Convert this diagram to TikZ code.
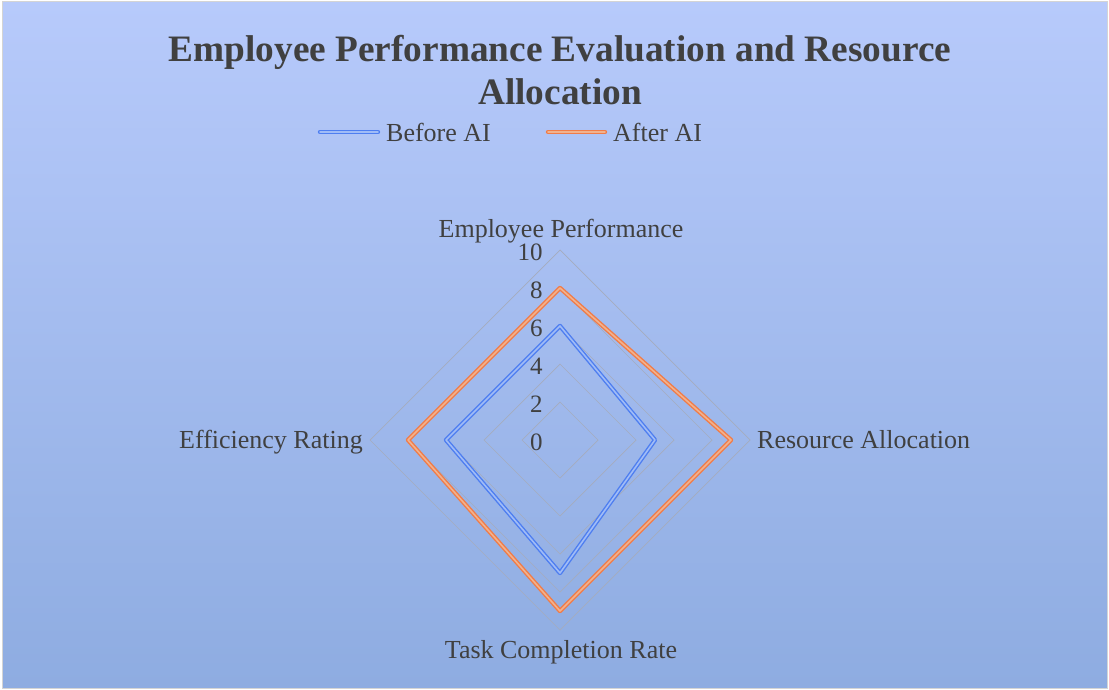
\documentclass[tikz,border=0pt]{standalone}
\usepackage{fontspec}
\setmainfont{Liberation Serif}
\usetikzlibrary{positioning}
\definecolor{bgtop}{RGB}{183,202,251}
\definecolor{bgbottom}{RGB}{142,172,225}
\definecolor{framegray}{RGB}{212,212,212}
\definecolor{gridgray}{RGB}{165,172,190}
\definecolor{textgray}{RGB}{64,64,64}
\definecolor{beforeblue}{RGB}{78,126,240}
\definecolor{beforelight}{RGB}{160,188,247}
\definecolor{afterorange}{RGB}{240,124,72}
\definecolor{afterlight}{RGB}{242,178,142}

\tikzset{
  gridline/.style={draw=gridgray, line width=0.7pt},
  beforeai/.style={draw=beforeblue, double=beforelight, line width=1.4pt, double distance=1.6pt, line join=round},
  afterai/.style={draw=afterorange, double=afterlight, line width=1.4pt, double distance=1.6pt, line join=round},
  axislabel/.style={text=textgray, inner sep=0pt, font=\fontsize{26}{30}\selectfont},
  ticklabel/.style={text=textgray, inner sep=0pt, anchor=east, font=\fontsize{25}{30}\selectfont},
}

\begin{document}
\begin{tikzpicture}[x=1pt, y=-1pt]
\useasboundingbox (0,0) rectangle (1109,690);

% Chart area background
\fill[white] (0,0) rectangle (1109,690);
\shade[top color=bgtop, bottom color=bgbottom] (2,2) rectangle (1107,688);
\draw[framegray, line width=1pt] (2,2) rectangle (1107,688);

% Title
\node[text=textgray, inner sep=0pt, align=center, anchor=north,
      font=\bfseries\fontsize{37.3}{43}\selectfont] (title) at (560,35)
      {Employee Performance Evaluation and Resource\\Allocation};

% Legend
\coordinate (legbeforestart) at (320,132);
\coordinate (legbefore) at (378,132);
\draw[beforeai, line cap=round] (legbeforestart) -- (legbefore);
\node[axislabel, right=8pt of legbefore] (legbeforetext) {Before AI};
\coordinate (legafterstart) at (548,132);
\coordinate (legafter) at (605,132);
\draw[afterai, line cap=round] (legafterstart) -- (legafter);
\node[axislabel, right=8pt of legafter] (legaftertext) {After AI};

% Radar grid and series
\begin{scope}[shift={(560,440)}, x=19pt, y=19pt]
  \foreach \r in {2,4,...,10}
    \draw[gridline] (0,\r) -- (\r,0) -- (0,-\r) -- (-\r,0) -- cycle;
  \foreach \v in {0,2,...,10}
    \node[ticklabel] (tick\v) at (-0.9,\v-0.1) {\v};

  \draw[beforeai] (0,6) -- (5,0) -- (0,-7) -- (-6,0) -- cycle;
  \draw[afterai] (0,8) -- (9,0) -- (0,-9) -- (-8,0) -- cycle;
\end{scope}

% Axis labels
\node[axislabel, anchor=base] (empperf) at (561,237) {Employee Performance};
\node[axislabel, anchor=base west] (resalloc) at (757,448) {Resource Allocation};
\node[axislabel, anchor=base] (taskrate) at (561,658) {Task Completion Rate};
\node[axislabel, anchor=base east] (effrating) at (363,448) {Efficiency Rating};
\end{tikzpicture}
\end{document}
